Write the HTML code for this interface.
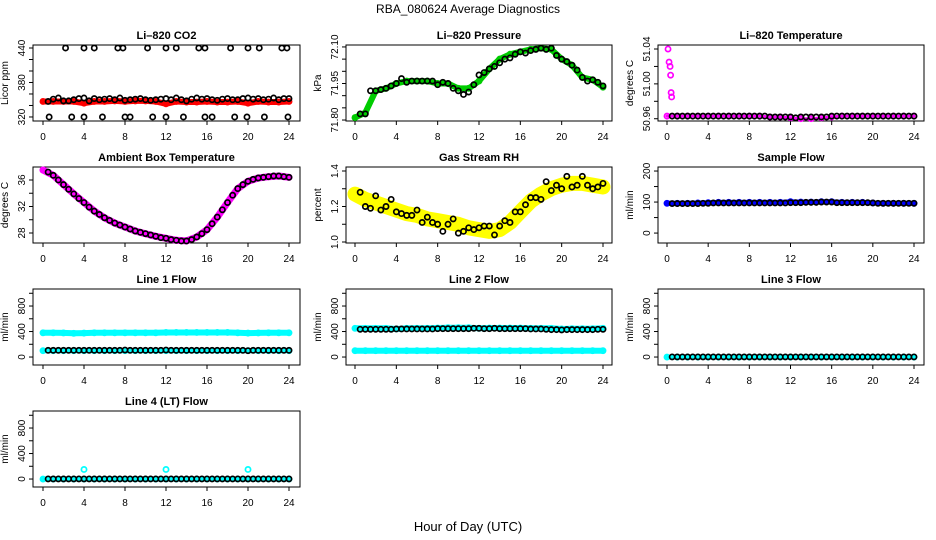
<!DOCTYPE html>
<html><head><meta charset="utf-8"><style>
html,body{margin:0;padding:0;background:#fff}
svg{display:block;font-family:"Liberation Sans",Arial,sans-serif}
</style></head><body>
<svg id="c" width="936" height="540" viewBox="0 0 936 540">
<text x="468" y="13" text-anchor="middle" font-size="12">RBA_080624  Average Diagnostics</text>
<text x="468" y="531" text-anchor="middle" font-size="13">Hour of Day (UTC)</text>
</svg>
<script>
// ---- data ----
const xTicks = [0,4,8,12,16,20,24];
const rawHours = [0,1,2,3,4,5,6,7,8,9,10,11,12,13,14,15,16,17,18,19,20,21,22,23,24];
const avgHours = [0.5,1,1.5,2,2.5,3,3.5,4,4.5,5,5.5,6,6.5,7,7.5,8,8.5,9,9.5,10,10.5,11,11.5,12,12.5,13,13.5,14,14.5,15,15.5,16,16.5,17,17.5,18,18.5,19,19.5,20,20.5,21,21.5,22,22.5,23,23.5,24];

const co2Raw = [347,347,347,347,344,347,347,348,347,348,348,347,343,347,346,346,347,346,346,347,344,347,346,346,347];
const co2Avg = [347,351,353,348,348,350,352,353,348,352,350,351,352,350,353,349,350,351,352,350,349,350,351,352,350,353,350,348,351,353,351,352,350,349,351,352,350,350,352,353,351,352,350,351,353,350,352,352];
const co2HighHours = [2.2,4,5,7.3,7.8,10.2,12,13,15.2,15.8,18.3,20,21.1,23.3,23.8];
const co2LowHours = [0.6,2.8,4,5.8,8,8.5,10.7,12,13.7,15.8,16.5,18.7,19.9,21.6,23.9];

const presRaw = [71.81,71.83,71.92,71.93,71.95,71.96,71.96,71.96,71.95,71.95,71.93,71.93,71.96,72.01,72.05,72.07,72.08,72.09,72.095,72.09,72.05,72.025,71.975,71.965,71.935];
const presAvg = [71.825,71.825,71.92,71.92,71.925,71.93,71.94,71.95,71.97,71.955,71.96,71.96,71.96,71.96,71.96,71.945,71.955,71.95,71.93,71.92,71.905,71.915,71.945,71.985,71.995,72.01,72.02,72.035,72.05,72.055,72.07,72.08,72.075,72.085,72.09,72.095,72.09,72.095,72.065,72.05,72.04,72.025,72.005,71.975,71.96,71.965,71.955,71.94];

const tempSpikeHours = [0.1,0.2,0.3,0.35,0.4,0.45];
const tempSpikeVals = [51.04,51.025,51.02,51.01,50.99,50.985];
const tempRaw = [50.963,50.963,50.963,50.963,50.963,50.963,50.963,50.963,50.963,50.963,50.962,50.962,50.961,50.96,50.96,50.961,50.962,50.963,50.963,50.963,50.963,50.963,50.963,50.963,50.963];
const tempAvg = [50.963,50.963,50.963,50.963,50.963,50.963,50.963,50.963,50.963,50.963,50.963,50.963,50.963,50.963,50.963,50.963,50.963,50.963,50.963,50.962,50.962,50.962,50.962,50.962,50.961,50.962,50.962,50.962,50.962,50.962,50.962,50.963,50.963,50.963,50.963,50.963,50.963,50.963,50.963,50.963,50.963,50.963,50.963,50.963,50.963,50.963,50.963,50.963];

const ambRaw = [37.5,36.7,35.3,33.9,32.6,31.3,30.3,29.5,28.9,28.3,27.9,27.5,27.2,26.9,26.8,27.4,28.5,30.4,32.6,34.7,35.8,36.3,36.5,36.6,36.4];
const ambAvg = [37.2,36.7,36.0,35.3,34.6,33.9,33.2,32.6,31.9,31.3,30.8,30.3,29.9,29.5,29.2,28.9,28.6,28.3,28.1,27.9,27.7,27.5,27.3,27.2,27.0,26.9,26.8,26.8,27.0,27.4,27.9,28.5,29.4,30.4,31.5,32.6,33.7,34.7,35.3,35.8,36.1,36.3,36.4,36.5,36.6,36.6,36.5,36.4];

const rhRaw = [1.27,1.24,1.22,1.2,1.18,1.16,1.15,1.13,1.12,1.11,1.1,1.08,1.07,1.06,1.07,1.11,1.17,1.23,1.27,1.3,1.32,1.33,1.33,1.32,1.31];
const rhAvg = [1.28,1.20,1.19,1.26,1.18,1.20,1.24,1.17,1.16,1.15,1.15,1.18,1.11,1.14,1.11,1.10,1.06,1.10,1.13,1.05,1.06,1.08,1.07,1.08,1.09,1.09,1.04,1.09,1.12,1.11,1.17,1.17,1.21,1.25,1.25,1.24,1.34,1.29,1.32,1.30,1.37,1.31,1.32,1.37,1.32,1.30,1.31,1.33];

const sampRaw = [96,96,96,97,98,99,99,99,99,99,99,99,101,100,100,101,101,99,99,99,97,96,96,96,96];
const sampAvg = [95,95,95,95,95,95,96,96,97,97,97,97,97,97,97,97,97,97,97,97,97,97,97,98,98,98,99,99,99,100,100,100,98,98,98,98,98,98,98,97,96,96,96,96,96,96,96,96];

const l1RawHigh = [380,380,378,372,375,380,380,380,380,380,380,380,385,385,385,385,385,385,385,380,375,378,380,380,380];
const l1RawLow = [100,100,100,100,100,100,100,100,100,100,100,100,100,100,100,100,100,100,100,100,100,100,100,100,100];
const l1Avg = [105,105,105,105,105,105,105,105,105,105,105,105,105,105,105,110,105,105,105,105,105,105,105,110,105,105,105,105,105,105,105,105,105,105,105,105,105,105,105,100,105,105,105,105,105,105,105,105];

const l2RawHigh = [450,450,450,450,440,450,450,450,455,460,460,460,450,455,455,455,455,450,450,450,440,445,445,445,450];
const l2RawLow = [100,100,100,100,100,100,100,100,100,100,100,100,100,100,100,100,100,100,100,100,100,100,100,100,100];
const l2Avg = [435,435,435,435,435,435,435,440,440,440,440,440,440,440,440,445,445,445,445,445,445,445,450,450,445,445,450,445,445,445,445,445,445,440,440,440,435,430,430,425,430,430,430,430,430,430,435,435];

const l3Raw = [0,0,0,0,0,0,0,0,0,0,0,0,0,0,0,0,0,0,0,0,0,0,0,0,0];
const l3Avg = [2,2,2,2,2,2,2,2,2,2,2,2,2,2,2,2,2,2,2,2,2,2,2,2,2,2,2,2,2,2,2,2,2,2,2,2,2,2,2,2,2,2,2,2,2,2,2,2];

const l4Raw = [0,0,0,0,0,0,0,0,0,0,0,0,0,0,0,0,0,0,0,0,0,0,0,0,0];
const l4SpikeHours = [4,12,20];
const l4SpikeVals = [150,150,150];
const l4Avg = [2,2,2,2,2,2,2,2,2,2,2,2,2,2,2,2,2,2,2,2,2,2,2,2,2,2,2,2,2,2,2,2,2,2,2,2,2,2,2,2,2,2,2,2,2,2,2,2];

// ---- layout ----
const svg = document.getElementById('c');
const NS = 'http://www.w3.org/2000/svg';
const boxL = [33,346,658], boxR = [300,612,924];
const x0px = [43,355,667], x24px = [289,603,914];
function mk(tag, attrs, parent){ const e=document.createElementNS(NS,tag); for(const k in attrs) e.setAttribute(k,attrs[k]); (parent||svg).appendChild(e); return e; }

function panel(p){
  const top = 45+122*p.row, bot = 121+122*p.row, L = boxL[p.col], R = boxR[p.col];
  const g = mk('g',{});
  
  
  const sx = h => x0px[p.col] + (x24px[p.col]-x0px[p.col])*h/24;
  const sy = v => bot - (v-p.lo)/(p.hi-p.lo)*(bot-top);
  p.sx=sx; p.sy=sy; p.g=g;
  const t = mk('text',{x:(L+R)/2,y:top-6,'text-anchor':'middle','font-size':11,'font-weight':'bold'},g);
  t.textContent = p.title;
  
  
  const yl = mk('text',{transform:`translate(${L-25},${(top+bot)/2}) rotate(-90)`,'text-anchor':'middle','font-size':10},g);
  yl.textContent = p.ylab;
  
  
  mk('line',{x1:L,x2:L,y1:sy(p.ticks[0]),y2:sy(p.ticks[p.ticks.length-1]),stroke:'#000'},g);
  p.ticks.forEach(v=>{ mk('line',{x1:L-4,x2:L,y1:sy(v),y2:sy(v),stroke:'#000'},g); });
  p.labels.forEach(v=>{
    const tl = mk('text',{transform:`translate(${L-8},${sy(v)}) rotate(-90)`,'text-anchor':'middle','font-size':10},g);
    tl.textContent = p.fmt ? p.fmt(v) : v;
    
    
  });
  mk('line',{x1:sx(0),x2:sx(24),y1:bot,y2:bot,stroke:'#000'},g);
  xTicks.forEach(h=>{
    mk('line',{x1:sx(h),x2:sx(h),y1:bot,y2:bot+4,stroke:'#000'},g);
    const xl = mk('text',{x:sx(h),y:bot+19,'text-anchor':'middle','font-size':10},g);
    xl.textContent = h;
    
    
  });
  const box = mk('rect',{x:L,y:top,width:R-L,height:bot-top,fill:'none',stroke:'#000'},g);
  
  
  return p;
}
function band(p, hours, vals, color, w, name){
  const pts = hours.map((h,i)=>p.sx(h).toFixed(1)+','+p.sy(vals[i]).toFixed(1)).join(' ');
  const pl = mk('polyline',{points:pts,fill:'none',stroke:color,'stroke-width':w,'stroke-linejoin':'round','stroke-linecap':'round'},p.g);
  
  
  pts0(p, hours, vals, color, name+'-point');
}
function pts0(p, hours, vals, color, name){
  hours.forEach((h,i)=>{
    const c = mk('circle',{cx:p.sx(h),cy:p.sy(vals[i]),r:2.6,fill:'none',stroke:color,'stroke-width':1.7},p.g);
    
    
  });
}
const f2 = v=>v.toFixed(2), f1 = v=>v.toFixed(1);

let p;
p = panel({name:'panel-co2',col:0,row:0,title:'Li–820 CO2',ylab:'Licor ppm',lo:313,hi:445.2,ticks:[320,340,360,380,400,420,440],labels:[320,380,440]});
band(p, rawHours, co2Raw, '#ff0000', 6, 'co2-raw');
pts0(p, avgHours, co2Avg, '#000', 'co2-average');
pts0(p, co2HighHours, co2HighHours.map(()=>440), '#000', 'co2-high-outlier');
pts0(p, co2LowHours, co2LowHours.map(()=>320), '#000', 'co2-low-outlier');

p = panel({name:'panel-pressure',col:1,row:0,title:'Li–820 Pressure',ylab:'kPa',lo:71.796,hi:72.108,ticks:[71.80,71.85,71.90,71.95,72.00,72.05,72.10],labels:[71.80,71.95,72.10],fmt:f2});
band(p, rawHours, presRaw, '#00cc00', 6, 'pressure-raw');
pts0(p, avgHours, presAvg, '#000', 'pressure-average');

p = panel({name:'panel-li820-temp',col:2,row:0,title:'Li–820 Temperature',ylab:'degrees C',lo:50.9574,hi:51.0446,ticks:[50.96,50.98,51.00,51.02,51.04],labels:[50.96,51.00,51.04],fmt:f2});
band(p, rawHours, tempRaw, '#ff00ff', 3, 'li820-temp-raw');
pts0(p, tempSpikeHours, tempSpikeVals, '#ff00ff', 'li820-temp-startup');
pts0(p, avgHours, tempAvg, '#000', 'li820-temp-average');

p = panel({name:'panel-ambient-temp',col:0,row:1,title:'Ambient Box Temperature',ylab:'degrees C',lo:26.49,hi:37.96,ticks:[28,30,32,34,36],labels:[28,32,36]});
band(p, rawHours, ambRaw, '#ff00ff', 7, 'ambient-temp-raw');
pts0(p, avgHours, ambAvg, '#000', 'ambient-temp-average');

p = panel({name:'panel-rh',col:1,row:1,title:'Gas Stream RH',ylab:'percent',lo:0.9944,hi:1.4225,ticks:[1.0,1.1,1.2,1.3,1.4],labels:[1.0,1.2,1.4],fmt:f1});
band(p, rawHours, rhRaw, '#ffff00', 15, 'rh-raw');
pts0(p, avgHours, rhAvg, '#000', 'rh-average');

p = panel({name:'panel-sample-flow',col:2,row:1,title:'Sample Flow',ylab:'ml/min',lo:-32,hi:213,ticks:[0,50,100,150,200],labels:[0,100,200]});
band(p, rawHours, sampRaw, '#0000ff', 5, 'sample-flow-raw');
pts0(p, avgHours, sampAvg, '#000', 'sample-flow-average');

const flowTicks=[0,200,400,600,800,1000], flowLabels=[0,400,800];
p = panel({name:'panel-line1',col:0,row:2,title:'Line 1 Flow',ylab:'ml/min',lo:-125,hi:1067,ticks:flowTicks,labels:flowLabels});
band(p, rawHours, l1RawHigh, '#00ffff', 6, 'line1-raw-high');
band(p, rawHours, l1RawLow, '#00ffff', 5, 'line1-raw-low');
pts0(p, avgHours, l1Avg, '#000', 'line1-average');

p = panel({name:'panel-line2',col:1,row:2,title:'Line 2 Flow',ylab:'ml/min',lo:-125,hi:1067,ticks:flowTicks,labels:flowLabels});
band(p, rawHours, l2RawHigh, '#00ffff', 6, 'line2-raw-high');
band(p, rawHours, l2RawLow, '#00ffff', 6, 'line2-raw-low');
pts0(p, avgHours, l2Avg, '#000', 'line2-average');

p = panel({name:'panel-line3',col:2,row:2,title:'Line 3 Flow',ylab:'ml/min',lo:-125,hi:1067,ticks:flowTicks,labels:flowLabels});
band(p, rawHours, l3Raw, '#00ffff', 5, 'line3-raw');
pts0(p, avgHours, l3Avg, '#000', 'line3-average');

p = panel({name:'panel-line4',col:0,row:3,title:'Line 4 (LT) Flow',ylab:'ml/min',lo:-125,hi:1067,ticks:flowTicks,labels:flowLabels});
band(p, rawHours, l4Raw, '#00ffff', 5, 'line4-raw');
pts0(p, l4SpikeHours, l4SpikeVals, '#00ffff', 'line4-spike');
pts0(p, avgHours, l4Avg, '#000', 'line4-average');
</script>
</body></html>
